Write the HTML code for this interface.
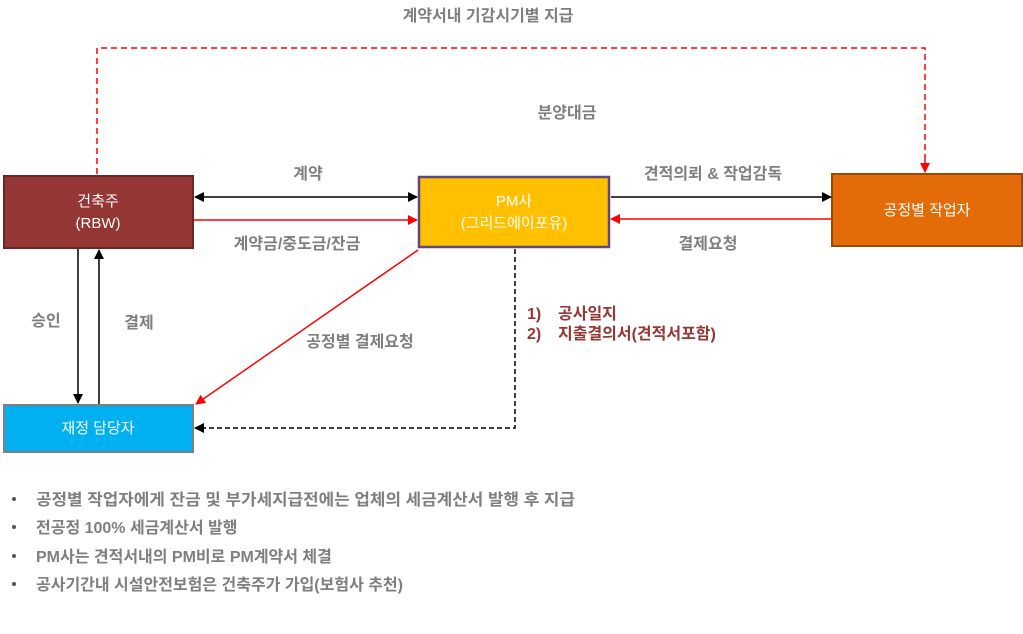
<!DOCTYPE html>
<html><head><meta charset="utf-8"><style>
html,body{margin:0;padding:0;background:#fff;width:1023px;height:634px;overflow:hidden}
svg text{font-family:"Liberation Sans","Noto Sans CJK KR",sans-serif}
</style></head><body>
<svg width="1023" height="634" viewBox="0 0 1023 634" xmlns="http://www.w3.org/2000/svg">
<defs>
<marker id="ab" markerWidth="10" markerHeight="10" refX="9" refY="5" orient="auto-start-reverse" markerUnits="userSpaceOnUse"><path d="M0,0 L10,5 L0,10 z" fill="#000"/></marker>
<marker id="ar" markerWidth="10" markerHeight="10" refX="9" refY="5" orient="auto-start-reverse" markerUnits="userSpaceOnUse"><path d="M0,0 L10,5 L0,10 z" fill="#f00"/></marker>
</defs>
<g font-weight="bold" fill="#7f7f7f" font-size="16">
<text x="488" y="21" text-anchor="middle">계약서내 기감시기별 지급</text>
<text x="567" y="118" text-anchor="middle">분양대금</text>
<text x="308" y="179" text-anchor="middle">계약</text>
<text x="297" y="249" text-anchor="middle">계약금/중도금/잔금</text>
<text x="713" y="179" text-anchor="middle">견적의뢰 &amp; 작업감독</text>
<text x="708" y="249" text-anchor="middle">결제요청</text>
<text x="46" y="326" text-anchor="middle">승인</text>
<text x="139" y="328" text-anchor="middle">결제</text>
<text x="360" y="347" text-anchor="middle">공정별 결제요청</text>
</g>
<g font-weight="bold" fill="#953735" font-size="16">
<text x="527" y="319">1)</text><text x="558" y="319">공사일지</text>
<text x="527" y="339">2)</text><text x="558" y="339">지출결의서(견적서포함)</text>
</g>
<polyline points="97,174 97,48 925,48 925,162" fill="none" stroke="#f00" stroke-width="1.5" stroke-dasharray="6,4"/>
<line x1="925" y1="160" x2="925" y2="172" stroke="#f00" stroke-width="1.5" marker-end="url(#ar)"/>
<rect x="4" y="176" width="189" height="72" fill="#943634" stroke="#6b2524" stroke-width="2"/>
<text x="98" y="206" text-anchor="middle" fill="#fff" font-size="15">건축주</text>
<text x="98" y="228" text-anchor="middle" fill="#fff" font-size="15">(RBW)</text>
<rect x="419" y="177" width="190" height="70" fill="#ffc000" stroke="#5f497a" stroke-width="2.5"/>
<text x="514" y="206" text-anchor="middle" fill="#fff" font-size="15">PM사</text>
<text x="514" y="228" text-anchor="middle" fill="#fff" font-size="15">(그리드에이포유)</text>
<rect x="832" y="174" width="190" height="72" fill="#e36c09" stroke="#984807" stroke-width="2"/>
<text x="927" y="215" text-anchor="middle" fill="#fff" font-size="15">공정별 작업자</text>
<rect x="4" y="405" width="189" height="47" fill="#00b0f0" stroke="#7f7f7f" stroke-width="2"/>
<text x="98" y="433" text-anchor="middle" fill="#fff" font-size="15">재정 담당자</text>
<line x1="195" y1="197" x2="417" y2="197" stroke="#000" stroke-width="1.5" marker-start="url(#ab)" marker-end="url(#ab)"/>
<line x1="194" y1="220" x2="417" y2="220" stroke="#f00" stroke-width="1.5" marker-end="url(#ar)"/>
<line x1="611" y1="197" x2="831" y2="197" stroke="#000" stroke-width="1.5" marker-end="url(#ab)"/>
<line x1="831" y1="219" x2="611" y2="219" stroke="#f00" stroke-width="1.5" marker-end="url(#ar)"/>
<line x1="78" y1="249" x2="78" y2="403" stroke="#000" stroke-width="1.5" marker-end="url(#ab)"/>
<line x1="99" y1="404" x2="99" y2="250" stroke="#000" stroke-width="1.5" marker-end="url(#ab)"/>
<line x1="418" y1="250" x2="196" y2="404" stroke="#f00" stroke-width="1.5" marker-end="url(#ar)"/>
<polyline points="515,249 515,428 205,428" fill="none" stroke="#000" stroke-width="1.5" stroke-dasharray="5,3"/>
<line x1="206" y1="428" x2="195" y2="428" stroke="#000" stroke-width="1.5" marker-end="url(#ab)"/>
<g font-weight="bold" fill="#7f7f7f" font-size="16">
<circle cx="14" cy="499" r="2" fill="#555"/><text x="36" y="505" textLength="539" lengthAdjust="spacingAndGlyphs">공정별 작업자에게 잔금 및 부가세지급전에는 업체의 세금계산서 발행 후 지급</text>
<circle cx="14" cy="527" r="2" fill="#555"/><text x="36" y="533">전공정 100% 세금계산서 발행</text>
<circle cx="14" cy="556" r="2" fill="#555"/><text x="36" y="562">PM사는 견적서내의 PM비로 PM계약서 체결</text>
<circle cx="14" cy="584" r="2" fill="#555"/><text x="36" y="590">공사기간내 시설안전보험은 건축주가 가입(보험사 추천)</text>
</g>
</svg>
</body></html>
